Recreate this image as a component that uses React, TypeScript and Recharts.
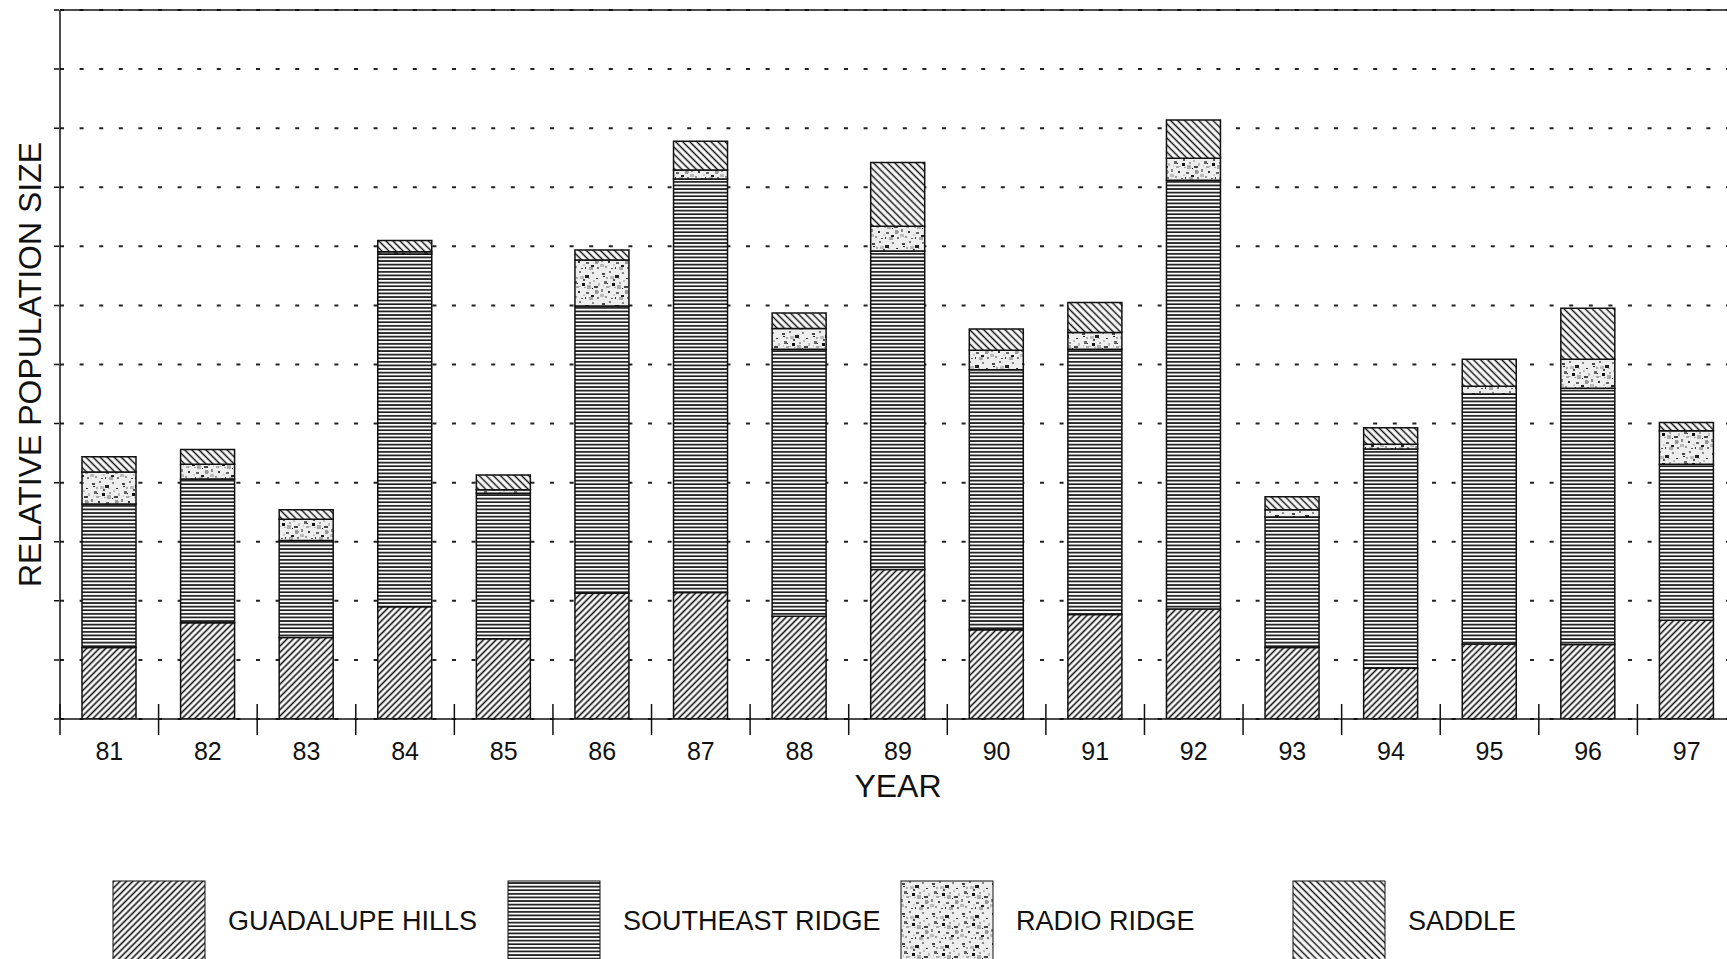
import React from 'react';
import { BarChart, Bar, XAxis, YAxis, CartesianGrid, ReferenceLine, Legend, Label } from 'recharts';

const years = ['81', '82', '83', '84', '85', '86', '87', '88', '89', '90', '91', '92', '93', '94', '95', '96', '97'];
const guadalupeHills = [1.21, 1.63, 1.38, 1.9, 1.36, 2.13, 2.14, 1.74, 2.53, 1.51, 1.77, 1.86, 1.21, 0.86, 1.27, 1.26, 1.67];
const southeastRidge = [2.43, 2.43, 1.64, 5.97, 2.46, 4.86, 7.0, 4.52, 5.39, 4.4, 4.49, 7.26, 2.21, 3.71, 4.23, 4.34, 2.64];
const radioRidge = [0.54, 0.25, 0.36, 0.04, 0.06, 0.78, 0.15, 0.35, 0.42, 0.33, 0.28, 0.37, 0.12, 0.08, 0.13, 0.49, 0.57];
const saddle = [0.26, 0.25, 0.16, 0.19, 0.25, 0.17, 0.49, 0.26, 1.08, 0.36, 0.51, 0.65, 0.22, 0.28, 0.46, 0.86, 0.14];
const yTicks = [0, 1, 2, 3, 4, 5, 6, 7, 8, 9, 10, 11, 12];

const series = [
  { key: 'guadalupe', name: 'GUADALUPE HILLS', fill: 'url(#hatchUp)' },
  { key: 'southeast', name: 'SOUTHEAST RIDGE', fill: 'url(#hLines)' },
  { key: 'radio', name: 'RADIO RIDGE', fill: 'url(#speckle)' },
  { key: 'saddle', name: 'SADDLE', fill: 'url(#hatchDown)' },
];

const data = years.map((year, i) => ({
  year,
  guadalupe: guadalupeHills[i],
  southeast: southeastRidge[i],
  radio: radioRidge[i],
  saddle: saddle[i],
}));

const font = '"Liberation Sans", Arial, Helvetica, sans-serif';
const ink = '#111';

// specks for the radio ridge texture (x, y, w, h, colour)
const specks: [number, number, number, number, string][] = [
  [2, 3, 3, 2, '#444'], [9, 1, 2, 2, '#777'], [15, 5, 4, 3, '#222'], [22, 2, 2, 2, '#888'],
  [26, 8, 2, 1, '#333'], [4, 11, 3, 3, '#666'], [12, 13, 3, 3, '#111'], [19, 12, 2, 2, '#999'],
  [24, 16, 4, 2, '#444'], [1, 19, 2, 3, '#888'], [8, 21, 2, 2, '#333'], [16, 22, 3, 2, '#666'],
  [21, 25, 3, 2, '#222'], [5, 26, 2, 2, '#999'], [11, 28, 2, 1, '#555'], [27, 27, 2, 2, '#777'],
  [14, 17, 2, 1, '#aaa'], [6, 7, 2, 2, '#aaa'], [18, 8, 2, 1, '#bbb'], [28, 21, 1, 2, '#aaa'],
  [9, 16, 2, 1, '#bbb'], [13, 24, 2, 2, '#ccc'], [23, 10, 2, 2, '#bbb'], [3, 15, 1, 2, '#ccc'],
  [10, 6, 4, 3, '#bbb'], [17, 15, 4, 4, '#aaa'], [0, 24, 4, 3, '#bbb'], [25, 20, 3, 4, '#999'],
  [6, 16, 3, 2, '#aaa'], [19, 27, 4, 3, '#aaa'], [13, 9, 2, 2, '#555'], [28, 13, 2, 3, '#bbb'],
  [3, 6, 2, 1, '#222'], [22, 18, 1, 1, '#111'], [15, 27, 1, 2, '#333'], [7, 13, 1, 1, '#222'],
];

// labels at band centres, boundary ticks crossing the axis between bands
const YearTick = (props: any) => {
  const { x, y, width, visibleTicksCount, index, payload } = props;
  const half = width / visibleTicksCount / 2;
  return (
    <g>
      <line x1={x - half} x2={x - half} y1={y - 15} y2={y + 16} stroke={ink} strokeWidth={1.5} />
      {index === visibleTicksCount - 1 && (
        <line x1={x + half} x2={x + half} y1={y - 15} y2={y + 16} stroke={ink} strokeWidth={1.5} />
      )}
      <text x={x} y={y + 23} dy="0.71em" textAnchor="middle" fontSize={25} fontFamily={font} fill={ink}>
        {payload.value}
      </text>
    </g>
  );
};

const NoLabel = () => <g />;

const YTitle = (props: any) => {
  const { viewBox } = props;
  const cx = viewBox.x + 30;
  const cy = viewBox.y + viewBox.height / 2;
  return (
    <text x={cx} y={cy} transform={`rotate(-90, ${cx}, ${cy})`} textAnchor="middle" dominantBaseline="central"
      fontSize={32} fontFamily={font} fill={ink}>
      RELATIVE POPULATION SIZE
    </text>
  );
};

const XTitle = (props: any) => {
  const { viewBox } = props;
  return (
    <text x={viewBox.x + viewBox.width / 2} y={viewBox.y + 78} textAnchor="middle" fontSize={32} fontFamily={font} fill={ink}>
      YEAR
    </text>
  );
};

const legendX = [113, 508, 901, 1293];

const renderLegend = () => (
  <svg width={1727} height={139} style={{ display: 'block' }}>
    {series.map((s, i) => (
      <g key={s.key}>
        <rect x={legendX[i]} y={61} width={92} height={90} fill={s.fill} stroke={ink} strokeWidth={1} />
        <text x={legendX[i] + 115} y={110} fontSize={27} fontFamily={font} fill={ink}>{s.name}</text>
      </g>
    ))}
  </svg>
);

const App: React.FC = () => {
  return (
    <div style={{ position: 'absolute', left: 0, top: 0, width: 1727, height: 959, overflow: 'hidden', background: '#fff' }}>
      <BarChart width={1746} height={959} data={data} barSize={54} margin={{ top: 10, right: 10, bottom: 0, left: 0 }}>
        <defs>
          <pattern id="hatchUp" patternUnits="userSpaceOnUse" width={4.5} height={4.5} patternTransform="rotate(45)">
            <rect width={4.5} height={4.5} fill="#fff" />
            <line x1={2.25} y1={0} x2={2.25} y2={4.5} stroke={ink} strokeWidth={1.6} />
          </pattern>
          <pattern id="hatchDown" patternUnits="userSpaceOnUse" width={5} height={5} patternTransform="rotate(-45)">
            <rect width={5} height={5} fill="#fff" />
            <line x1={2.5} y1={0} x2={2.5} y2={5} stroke={ink} strokeWidth={1.5} />
          </pattern>
          <pattern id="hLines" patternUnits="userSpaceOnUse" width={8} height={3.6}>
            <rect width={8} height={3.6} fill="#fff" />
            <rect y={1} width={8} height={1.7} fill="#1a1a1a" />
          </pattern>
          <pattern id="speckle" patternUnits="userSpaceOnUse" width={30} height={30}>
            <rect width={30} height={30} fill="#eeeeee" />
            {specks.map(([x, y, w, h, c], i) => (
              <rect key={i} x={x} y={y} width={w} height={h} fill={c} />
            ))}
          </pattern>
        </defs>
        <CartesianGrid vertical={false} stroke="#222" strokeWidth={2} strokeDasharray="4 15.6" />
        <XAxis dataKey="year" height={101} interval={0} tickLine={false} tickSize={0} tickMargin={0}
          axisLine={{ stroke: ink, strokeWidth: 1.5 }} tick={<YearTick />}>
          <Label content={XTitle} />
        </XAxis>
        <YAxis domain={[0, 12]} ticks={yTicks} interval={0} allowDataOverflow tick={<NoLabel />} width={60} tickSize={15}
          axisLine={{ stroke: ink, strokeWidth: 1.5 }} tickLine={{ stroke: ink, strokeWidth: 1.5, strokeDasharray: '0 9 5 100' }}>
          <Label content={YTitle} />
        </YAxis>
        <ReferenceLine y={12} stroke={ink} strokeWidth={1.5} />
        {series.map((s) => (
          <Bar key={s.key} dataKey={s.key} name={s.name} stackId="pop" fill={s.fill}
            stroke={ink} strokeWidth={1.5} isAnimationActive={false} />
        ))}
        <Legend verticalAlign="bottom" align="left" height={139} wrapperStyle={{ left: 0, bottom: 0, width: 1727 }} content={renderLegend} />
      </BarChart>
    </div>
  );
};

export default App;
